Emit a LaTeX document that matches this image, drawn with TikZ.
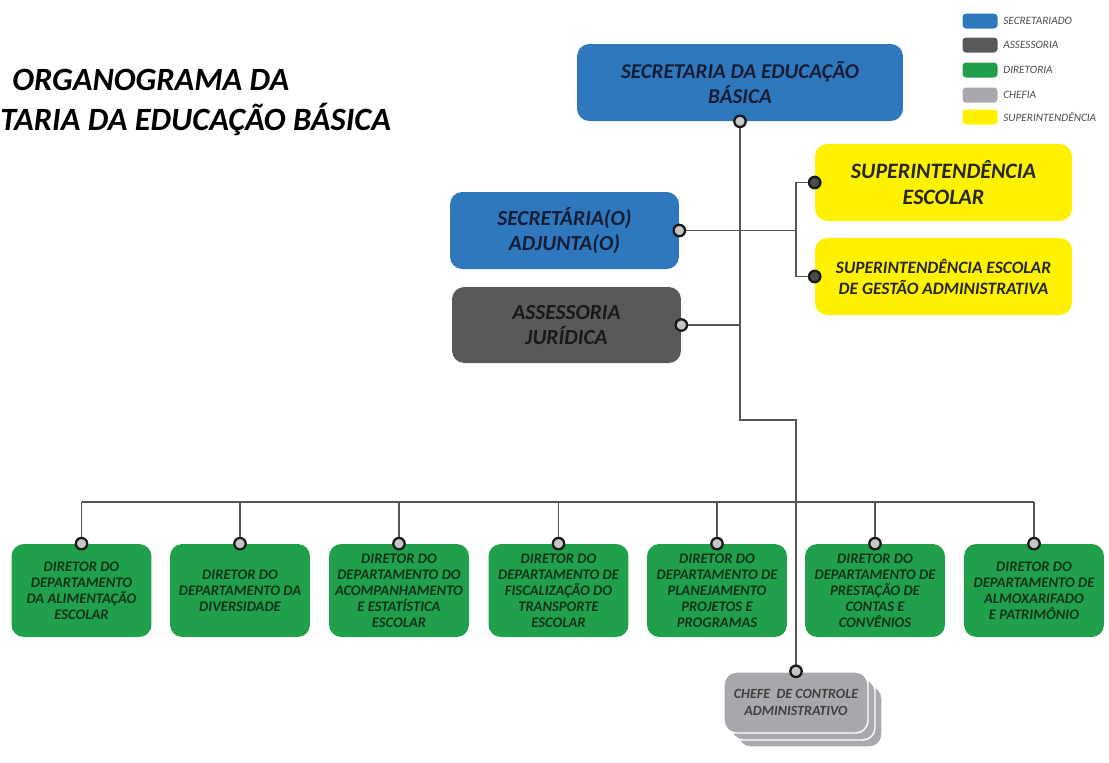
\documentclass[tikz,border=0pt]{standalone}
\usepackage{fontspec}
\setmainfont{Carlito}
\usetikzlibrary{positioning}

\definecolor{secblue}{HTML}{2F78BE}
\definecolor{assgray}{HTML}{58595B}
\definecolor{dirgreen}{HTML}{21A04B}
\definecolor{chefgray}{HTML}{A7A9AC}
\definecolor{supyellow}{HTML}{FFF200}
\definecolor{linegray}{HTML}{555555}
\definecolor{navytext}{HTML}{141C33}
\definecolor{greentext}{HTML}{10331A}

\tikzset{
  box/.style={rounded corners=7pt, inner sep=2pt, align=center, font=\bfseries\itshape},
  secbox/.style={box, fill=secblue, text=navytext, minimum height=1.54cm},
  assbox/.style={box, fill=assgray, text=black!90, minimum height=1.52cm},
  supbox/.style={box, fill=supyellow, text=black!85, minimum width=5.14cm, minimum height=1.54cm},
  dirbox/.style={box, fill=dirgreen, text=greentext, minimum width=2.8cm, minimum height=1.86cm,
    font=\bfseries\itshape\fontsize{8.3}{9.1}\selectfont},
  chefbox/.style={box, fill=chefgray, draw=white, line width=0.8pt, minimum width=2.88cm, minimum height=1.22cm,
    text=black!75, font=\bfseries\itshape\fontsize{8}{9.2}\selectfont},
  legbox/.style={rounded corners=2pt, minimum width=0.7cm, minimum height=0.3cm, inner sep=0pt},
  legtext/.style={anchor=west, inner sep=0pt, text=black!70, font=\itshape\fontsize{6.4}{7}\selectfont},
  link/.style={draw=linegray, line width=1.1pt},
  dot/.style={circle, draw=black!90, fill=gray!45, line width=1.3pt, inner sep=0pt, minimum size=6.5pt},
  darkdot/.style={dot, fill=black!70}
}

\begin{document}
\begin{tikzpicture}[x=0.02cm, y=-0.02cm]
  \useasboundingbox (0,0) rectangle (1109,762);

  % title
  \node[anchor=west, inner sep=0pt, font=\bfseries\itshape\fontsize{18.5}{22}\selectfont] (title1) at (12,80) {ORGANOGRAMA DA};
  \node[anchor=west, inner sep=0pt, font=\bfseries\itshape\fontsize{18.5}{22}\selectfont] (title2) at (0,119) {TARIA DA EDUCAÇÃO BÁSICA};

  % legend
  \node[legbox, fill=secblue] (l1) at (980,21) {};
  \node[legbox, fill=assgray] (l2) at (980,45) {};
  \node[legbox, fill=dirgreen] (l3) at (980,70) {};
  \node[legbox, fill=chefgray] (l4) at (980,95) {};
  \node[legbox, fill=supyellow] (l5) at (980,117) {};
  \node[legtext] at (1003,21) {SECRETARIADO};
  \node[legtext] at (1003,45) {ASSESSORIA};
  \node[legtext] at (1003,70) {DIRETORIA};
  \node[legtext] at (1003,95) {CHEFIA};
  \node[legtext] at (1003,117) {SUPERINTENDÊNCIA};

  % upper boxes
  \node[secbox, minimum width=6.52cm, font=\bfseries\itshape\fontsize{12}{14.7}\selectfont] (sed) at (740,82.5)
    {SECRETARIA DA EDUCAÇÃO\\BÁSICA};
  \node[secbox, minimum width=4.58cm, font=\bfseries\itshape\fontsize{12.2}{14.2}\selectfont] (adj) at (564.5,230.5)
    {SECRETÁRIA(O)\\ADJUNTA(O)};
  \node[assbox, minimum width=4.58cm, font=\bfseries\itshape\fontsize{12.2}{14.2}\selectfont] (ass) at (566.5,325)
    {ASSESSORIA\\JURÍDICA};
  \node[supbox, font=\bfseries\itshape\fontsize{12.5}{15.3}\selectfont] (sup1) at (943.5,182.5)
    {SUPERINTENDÊNCIA\\ESCOLAR};
  \node[supbox, font=\bfseries\itshape\fontsize{9.9}{12}\selectfont] (sup2) at (943.5,276.5)
    {SUPERINTENDÊNCIA ESCOLAR\\DE GESTÃO ADMINISTRATIVA};

  % directors
  \node[dirbox] (d1) at (81.5,590.5) {DIRETOR DO\\DEPARTAMENTO\\DA ALIMENTAÇÃO\\ESCOLAR};
  \node[dirbox] (d2) at (240,590.5) {DIRETOR DO\\DEPARTAMENTO DA\\DIVERSIDADE};
  \node[dirbox] (d3) at (399,590.5) {DIRETOR DO\\DEPARTAMENTO DO\\ACOMPANHAMENTO\\E ESTATÍSTICA\\ESCOLAR};
  \node[dirbox] (d4) at (558.5,590.5) {DIRETOR DO\\DEPARTAMENTO DE\\FISCALIZAÇÃO DO\\TRANSPORTE\\ESCOLAR};
  \node[dirbox] (d5) at (717,590.5) {DIRETOR DO\\DEPARTAMENTO DE\\PLANEJAMENTO\\PROJETOS E\\PROGRAMAS};
  \node[dirbox] (d6) at (875,590.5) {DIRETOR DO\\DEPARTAMENTO DE\\PRESTAÇÃO DE\\CONTAS E\\CONVÊNIOS};
  \node[dirbox] (d7) at (1034,590.5) {DIRETOR DO\\DEPARTAMENTO DE\\ALMOXARIFADO\\E PATRIMÔNIO};

  % chefia (stacked)
  \node[chefbox] (chefe3) at (810,716.5) {};
  \node[chefbox] (chefe2) at (803,709.5) {};
  \node[chefbox] (chefe) at (796,702.5) {CHEFE~~DE CONTROLE\\ADMINISTRATIVO};

  % connectors
  \coordinate (bend) at (796,420);
  \coordinate (bus) at (796,502);
  \draw[link] (sed.south) |- (bend) -- (chefe.north);
  \draw[link] (adj.east) -- (adj.east -| bend);
  \draw[link] (sup1.west) -| (adj.east -| bend) |- (sup2.west);
  \draw[link] (ass.east) -- (ass.east -| sed.south);
  \draw[link] (d1.north |- bus) -- (d7.north |- bus);
  \foreach \i in {1,...,7}
    \draw[link] (d\i.north) -- (d\i.north |- bus);

  % dots
  \foreach \n in {sed.south, adj.east, ass.east, chefe.north}
    \node[dot] at (\n) {};
  \foreach \i in {1,...,7}
    \node[dot] at (d\i.north) {};
  \node[darkdot] at (sup1.west) {};
  \node[darkdot] at (sup2.west) {};
\end{tikzpicture}
\end{document}
